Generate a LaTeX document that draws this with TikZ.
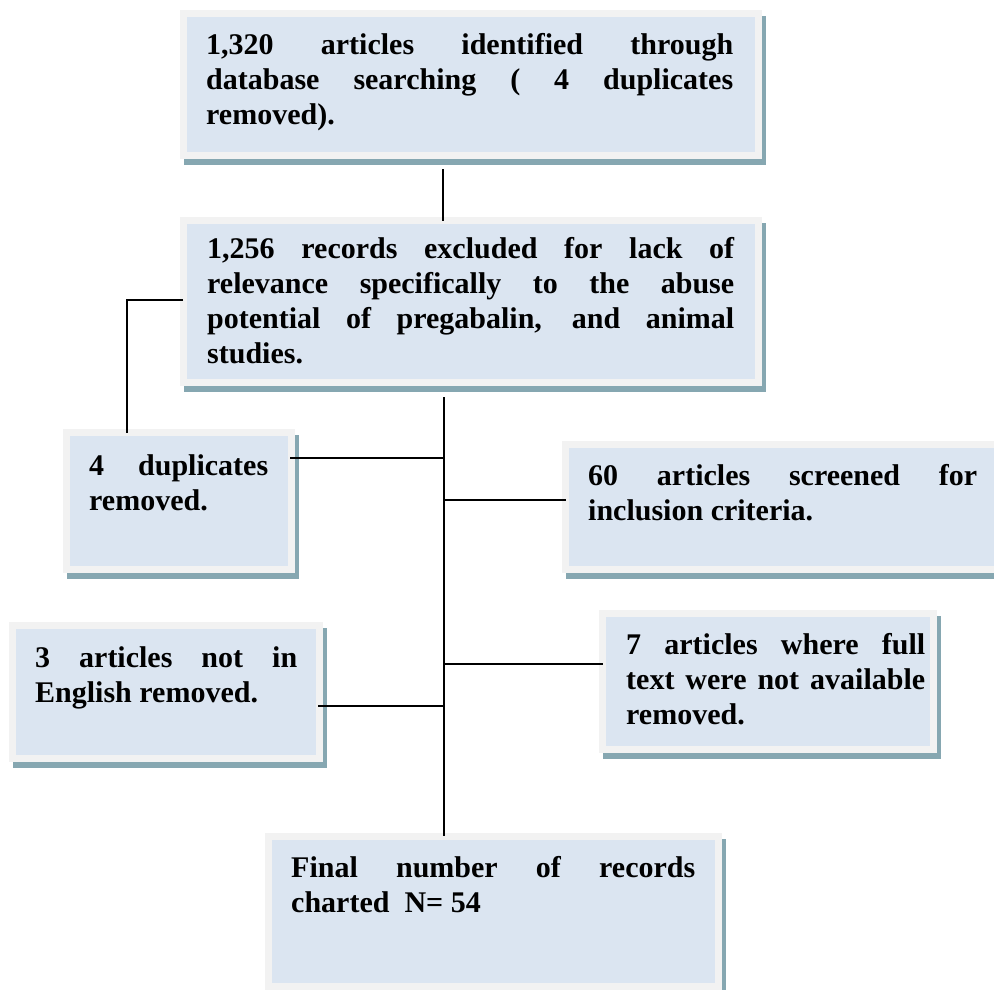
\documentclass[tikz,border=0pt]{standalone}
\usepackage{fontspec}
\setmainfont{Liberation Serif}
\definecolor{framegray}{HTML}{F2F2F2}
\definecolor{innerblue}{HTML}{DBE5F1}
\definecolor{shadowc}{HTML}{86A7B1}
\newcommand{\jline}[2]{\hbox to #1{\spaceskip=.25em plus 1fil\relax #2}}
\begin{document}
\begin{tikzpicture}[x=1pt,y=-1pt,
  flowbox/.style={draw=framegray, fill=innerblue, line width=7pt, inner sep=0pt,
    preaction={draw=shadowc, fill=shadowc, transform canvas={xshift=3.5pt,yshift=-5.5pt}}},
  boxtext/.style={anchor=base west, inner sep=0pt, font=\fontsize{30}{35}\selectfont\bfseries},
  conn/.style={draw=black, line width=1.8pt}]
\useasboundingbox (0,0) rectangle (994,989);
\clip (0,0) rectangle (994,989);
\fill[white] (0,0) rectangle (994,989);
% boxes
\node[flowbox, minimum width=575pt, minimum height=142pt] (b1) at (471,84.5) {};
\node[flowbox, minimum width=575pt, minimum height=162pt] (b2) at (471,301.5) {};
\node[flowbox, minimum width=225pt, minimum height=137pt] (b3) at (179,501) {};
\node[flowbox, minimum width=441pt, minimum height=125pt] (b4) at (786,507) {};
\node[flowbox, minimum width=307pt, minimum height=133pt] (b5) at (166,692) {};
\node[flowbox, minimum width=331pt, minimum height=136pt] (b6) at (768,681.5) {};
\node[flowbox, minimum width=450pt, minimum height=150pt] (b7) at (493.5,911.5) {};
% texts
\node[boxtext] (t1) at (206,54) {\parbox[t]{527pt}{%
\jline{527pt}{1,320 articles identified through}%
\jline{527pt}{database searching ( 4 duplicates}%
removed).}};
\node[boxtext] (t2) at (207,258) {\parbox[t]{527pt}{%
\jline{527pt}{1,256 records excluded for lack of}%
\jline{527pt}{relevance specifically to the abuse}%
\jline{527pt}{potential of pregabalin, and animal}%
studies.}};
\node[boxtext] (t3) at (89,475) {\parbox[t]{179pt}{%
\jline{179pt}{4 duplicates}%
removed.}};
\node[boxtext] (t4) at (588,485) {\parbox[t]{389pt}{%
\jline{389pt}{60 articles screened for}%
inclusion criteria.}};
\node[boxtext] (t5) at (35,667) {\parbox[t]{262pt}{%
\jline{262pt}{3 articles not in}%
English removed.}};
\node[boxtext] (t6) at (626,654) {\parbox[t]{299pt}{%
\jline{299pt}{7 articles where full}%
\jline{299pt}{text were not available}%
removed.}};
\node[boxtext] (t7) at (291,877) {\parbox[t]{404pt}{%
\jline{404pt}{Final number of records}%
charted\ \ N= 54}};
% connectors
\coordinate (c1) at (443,169);
\draw[conn, shorten >=-4pt] (c1) -- (b2.north -| c1);
\coordinate (k1) at (127,300);
\draw[conn, shorten <=-3pt, shorten >=-4pt] (b2.west |- k1) -- (k1) -- (b3.north -| k1);
\coordinate (tt) at (444,397);
\draw[conn, shorten >=-3pt] (tt) -- (b7.north -| tt);
\coordinate (j1) at (444,458);
\coordinate (j2) at (444,500);
\coordinate (j3) at (444,664);
\coordinate (j4) at (444,706);
\draw[conn, shorten <=-5pt] (b3.east |- j1) -- (j1);
\draw[conn, shorten >=-4pt] (j2) -- (b4.west |- j2);
\draw[conn, shorten >=-4pt] (j3) -- (b6.west |- j3);
\draw[conn, shorten <=-5pt] (b5.east |- j4) -- (j4);
\end{tikzpicture}
\end{document}
